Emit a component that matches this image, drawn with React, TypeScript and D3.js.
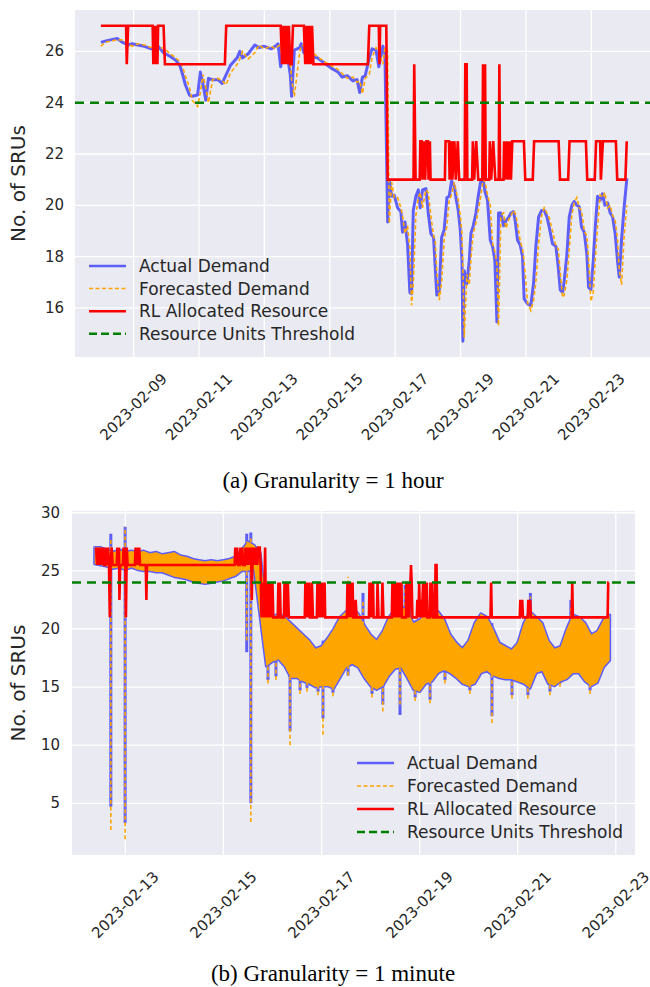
import React from 'react';
import * as d3 from 'd3';

// ---- (a) hourly data: hours since 2023-02-08 00:00 ----
const hourlyHours = [
  0, 3, 7, 12, 16, 20, 23, 27, 32, 37, 42, 46, 51, 55, 58, 60, 62, 65, 67, 71,
  73, 75, 77, 79, 82, 86, 89, 92, 95, 100, 102, 104, 108, 113, 116, 120, 125, 128, 130, 132,
  134, 137, 139, 140, 142, 146, 147, 149, 152, 154, 159, 164, 169, 174, 177, 181, 185, 188, 190, 192,
  194, 197, 199, 202, 204, 207, 208.5, 210.5, 211.7, 213.4, 215.3, 217.8, 220.2, 221.4, 223.2, 225.1, 226.8, 228, 229.3, 231.2,
  233, 234.4, 236.1, 238.6, 240.3, 242.2, 244.2, 245.4, 246.6, 248.4, 250.1, 252, 254, 255.7, 257.4, 259.4, 260.6, 262.3, 263.8, 265,
  265.7, 266.7, 268.7, 270.4, 271.6, 273.3, 275.3, 277, 279, 280.6, 282.1, 283.8, 285.8, 287.5, 289.2, 290.7, 291.9, 293.6, 295.6, 297.3,
  299, 301, 302.9, 304.1, 305.8, 307.8, 309.5, 310.7, 313.2, 315.6, 317.6, 319.3, 321.3, 323.5, 325.4, 327.4, 329.1, 331.5, 334, 335.7,
  337.2, 338.9, 340.1, 342.1, 343.8, 345.7, 347.4, 349.4, 351.1, 352.8, 354.8, 356.7, 358, 359.7, 361.4, 362.9, 364.6, 366.5, 368.2, 369.9,
  371.9, 373.9, 375.6, 377.5, 379.2, 380.5, 382.2, 384.1, 386.1,
];
const hourlyActual = [
  26.35, 26.4, 26.45, 26.5, 26.35, 26.25, 26.3, 26.25, 26.2, 26.1, 26.2, 25.95, 25.8, 25.65, 25.45, 25.1, 24.7, 24.3, 24.25, 24.3,
  25.2, 24.7, 24.1, 24.95, 24.9, 24.9, 24.75, 25.1, 25.45, 25.75, 26.0, 25.75, 25.9, 26.25, 26.15, 26.2, 26.1, 26.2, 26.3, 25.4,
  26.0, 25.8, 25.1, 24.25, 26.05, 26.15, 26.3, 25.95, 26.0, 25.8, 25.75, 25.55, 25.35, 25.2, 25.0, 25.05, 24.85, 24.9, 24.4, 25.0,
  25.05, 25.75, 26.1, 26.05, 25.4, 26.2, 25.9, 19.35, 21.0, 20.35, 20.4, 19.9, 19.75, 18.95, 19.35, 18.5, 16.6, 16.55, 19.8, 20.35,
  20.6, 19.9, 20.6, 20.65, 19.7, 18.9, 18.75, 17.6, 16.5, 16.7, 18.75, 19.05, 20.3, 20.35, 20.95, 20.75, 20.3, 19.8, 19.05, 17.85,
  14.7, 17.45, 16.95, 17.85, 18.9, 19.2, 19.7, 20.35, 21.0, 21.0, 20.5, 20.2, 18.65, 18.4, 17.85, 15.45, 19.7, 19.7, 19.2, 19.4,
  19.5, 19.7, 19.75, 19.4, 18.65, 18.45, 18.0, 16.35, 16.15, 16.1, 16.95, 18.4, 19.55, 19.8, 19.8, 19.55, 19.15, 18.5, 18.4, 17.6,
  16.7, 16.6, 17.05, 18.1, 19.55, 20.0, 20.15, 20.0, 19.95, 19.15, 18.95, 18.1, 16.8, 16.7, 17.85, 19.15, 20.35, 20.2, 20.45, 20.0,
  20.1, 19.7, 19.55, 18.9, 17.85, 17.2, 18.65, 19.95, 21.05,
];
const hourlyForecast = [
  26.2, 26.35, 26.4, 26.45, 26.45, 26.3, 26.2, 26.3, 26.25, 26.15, 26.1, 26.15, 25.9, 25.75, 25.6, 25.4, 25.05, 24.6, 24.1, 23.85,
  24.4, 25.1, 24.6, 24.0, 24.9, 24.95, 24.85, 24.7, 25.15, 25.5, 25.7, 26.0, 25.7, 25.95, 26.25, 26.1, 26.2, 26.1, 26.2, 26.25,
  25.5, 25.9, 25.6, 24.9, 24.25, 26.0, 26.2, 26.25, 25.9, 26.0, 25.8, 25.6, 25.45, 25.3, 25.15, 24.95, 25.0, 24.8, 24.85, 24.35,
  24.95, 25.1, 25.75, 26.15, 26.0, 25.5, 26.15, 26.0, 19.3, 20.9, 20.3, 20.3, 19.9, 19.6, 18.9, 19.2, 18.3, 16.1, 16.9, 19.6,
  20.3, 20.5, 19.9, 20.6, 20.5, 19.6, 18.8, 18.6, 17.4, 16.3, 17.0, 18.7, 19.2, 20.2, 20.4, 20.9, 20.6, 20.2, 19.6, 18.9,
  17.6, 14.85, 17.3, 16.9, 17.9, 18.9, 19.3, 19.8, 20.4, 21.0, 20.9, 20.4, 20.0, 18.5, 18.2, 17.7, 15.3, 19.6, 19.7, 19.1,
  19.4, 19.6, 19.8, 19.7, 19.3, 18.6, 18.3, 17.8, 16.2, 15.9, 16.3, 17.0, 18.5, 19.6, 19.9, 19.7, 19.5, 19.0, 18.4, 18.3,
  17.4, 16.4, 16.5, 17.1, 18.3, 19.6, 20.1, 20.3, 19.9, 19.8, 19.0, 18.8, 17.9, 16.25, 16.6, 17.9, 19.2, 20.4, 20.3, 20.5,
  19.9, 20.0, 19.6, 19.4, 18.7, 17.5, 16.9, 18.8, 20.0,
];
// RL allocation as [hour, SRUs] breakpoints
const hourlyRl: [number, number][] = [
  [0, 27], [18.5, 27], [19, 25.5], [20, 27], [38, 27], [38.5, 25.5], [39, 27], [40, 25.5], [40.5, 27], [41.5, 25.5],
  [42, 27], [46, 27], [47, 25.5], [91, 25.5], [92, 27], [132, 27], [133, 25.5], [134, 27], [135, 25.5], [136, 27],
  [137, 25.5], [138, 27], [139, 25.5], [140, 25.5], [141, 27], [149, 27], [150, 25.5], [151, 27], [152, 25.5], [153, 27],
  [154, 25.5], [155, 27], [156, 25.5], [196, 25.5], [197, 27], [204, 27], [204.5, 25.5], [205, 27], [209.5, 27], [210.5, 21],
  [229.5, 21], [230, 25.5], [231, 21], [234, 21], [234.5, 22.5], [235.5, 22.5], [236, 21], [237, 22.5], [238, 21], [239, 22.5],
  [240, 22.5], [240.5, 21], [241.5, 22.5], [242, 21], [252.5, 21], [253, 22.5], [255.5, 22.5], [256, 21], [257.5, 22.5], [258, 21],
  [259.5, 22.5], [260.5, 21], [262, 22.5], [263, 21], [267, 21], [267.5, 25.5], [268.5, 25.5], [269, 21], [272.5, 21], [273, 22.5],
  [274, 21], [275.5, 22.5], [277, 21], [280, 21], [280.5, 25.5], [281.5, 21], [282, 25.5], [282.5, 21], [285, 21], [285.5, 22.5],
  [286.5, 21], [288, 22.5], [289.5, 21], [292, 21], [292.5, 25.5], [293, 21], [295.5, 21], [296, 22.5], [297, 21], [298, 22.5],
  [299, 21], [300, 22.5], [301, 21], [302, 22.5], [310.5, 22.5], [311.5, 21], [317, 21], [318, 22.5], [336, 22.5], [337, 21],
  [343, 21], [344, 22.5], [356, 22.5], [357, 21], [362.5, 21], [363.5, 22.5], [366.5, 22.5], [367, 21], [368.5, 22.5], [378, 22.5],
  [379, 21], [385, 21], [386, 22.5],
];
const hourlyTicks = ['2023-02-09', '2023-02-11', '2023-02-13', '2023-02-15', '2023-02-17', '2023-02-19', '2023-02-21', '2023-02-23'];
const hourlyYTicks = [16, 18, 20, 22, 24, 26];

// ---- (b) minute data: hours since 2023-02-12 00:00, min/max envelope per 3 h ----
const minuteBinHours = [
  9, 12, 15, 18, 21, 24, 27, 30, 33, 36, 39, 42, 45, 48, 51, 54, 57, 60, 63, 66,
  69, 72, 75, 78, 81, 84, 87, 90, 93, 96, 99, 102, 105, 108, 111, 114, 117, 120, 123, 126,
  129, 132, 135, 138, 141, 144, 147, 150, 153, 156, 159, 162, 165, 168, 171, 174, 177, 180, 183, 186,
  189, 192, 195, 198, 201, 204, 207, 210, 213, 216, 219, 222, 225, 228, 231, 234, 237, 240, 243, 246,
  249, 252, 255, 258, 261,
];
const minuteHigh = [
  27.0, 27.0, 26.8, 26.6, 26.8, 26.6, 26.7, 26.6, 26.7, 26.5, 26.6, 26.4, 26.5, 26.6, 26.3, 26.2, 26.0, 25.9, 25.8, 25.9,
  25.8, 25.9, 26.0, 26.2, 26.8, 27.5, 27.2, 26.5, 21.5, 21.0, 21.3, 21.0, 20.5, 20.0, 19.5, 19.0, 18.3, 18.5, 19.2, 20.0,
  21.0, 21.5, 21.8, 21.3, 20.3, 19.5, 19.0, 19.8, 21.0, 21.7, 22.0, 21.5, 20.5, 20.8, 21.3, 21.6, 21.5, 20.8, 19.5, 18.8,
  18.3, 19.0, 20.5, 21.3, 21.0, 20.0, 18.8, 18.5, 18.2, 18.8, 20.5, 21.5, 21.0, 20.5, 19.0, 18.3, 18.5, 20.0, 21.2, 21.0,
  20.5, 19.5, 19.8, 20.8, 21.2,
];
const minuteLow = [
  25.6, 25.5, 25.4, 25.2, 25.3, 25.1, 25.3, 25.1, 25.0, 25.0, 24.9, 24.9, 24.7, 24.5, 24.4, 24.3, 24.1, 24.0, 23.9, 24.0,
  24.1, 24.2, 24.4, 24.6, 25.0, 25.0, 25.2, 21.0, 16.8, 17.2, 17.4, 16.8, 15.8, 15.8, 15.5, 15.3, 15.0, 15.1, 15.1, 14.9,
  15.8, 16.7, 17.0, 16.7, 15.8, 15.1, 14.8, 15.1, 16.0, 16.6, 16.7, 15.8, 14.8, 14.6, 15.3, 15.5, 16.2, 16.5, 16.2, 15.8,
  15.3, 15.1, 15.3, 16.2, 16.4, 16.0, 15.8, 15.7, 15.7, 15.5, 15.3, 14.9, 16.2, 16.4, 15.3, 15.1, 15.5, 15.7, 16.2, 16.2,
  15.5, 15.1, 15.4, 16.7, 17.3,
];
// isolated one-minute spikes
const spikeHours = [
  16.9, 23.9, 83.4, 85.4, 93.8, 97.7, 104.6, 109.5, 112.9, 118.3, 120.7, 125.6, 133, 140.3, 144.7, 150, 158.4,
  160.9, 163, 165.8, 170.8, 173.1, 175, 180.4, 192.6, 203.4, 213.2, 221, 222.2, 231.8, 236.7, 242, 251.4,
];
const spikeActualHigh = [
  28.2, 28.8, 28.2, 28.3, 19.0, 19.0, 20.5, 18.5, 18.5, 18.0, 19.0, 18.5, 23.5, 23.1, 18.0, 19.5, 22.5,
  23.8, 23.5, 18.5, 22.8, 20.0, 23.0, 20.0, 18.0, 20.5, 17.5, 20.0, 23.1, 18.5, 17.5, 22.5, 18.5,
];
const spikeActualLow = [
  4.7, 3.3, 18.0, 5.0, 15.6, 15.9, 11.2, 14.7, 14.9, 14.6, 12.3, 14.5, 16.0, 17.5, 14.4, 13.5, 12.6,
  17.5, 17.0, 14.1, 17.0, 13.9, 17.0, 15.6, 14.7, 12.5, 14.3, 14.3, 17.0, 14.6, 15.3, 17.0, 14.7,
];
const spikeForecastHigh = [
  27.8, 28.8, 27.5, 28.0, 19.0, 19.0, 20.0, 18.5, 18.5, 18.0, 18.5, 18.5, 24.5, 22.5, 18.0, 19.0, 22.0,
  23.5, 23.0, 18.5, 22.5, 20.0, 22.5, 20.0, 18.0, 20.0, 17.5, 20.0, 22.8, 18.5, 17.5, 22.0, 18.5,
];
const spikeForecastLow = [
  2.7, 1.9, 19.0, 3.4, 15.3, 15.6, 10.0, 14.4, 14.6, 14.3, 10.9, 14.2, 16.0, 17.5, 14.1, 12.9, 13.5,
  17.5, 17.0, 13.8, 17.0, 13.6, 17.0, 15.3, 14.4, 11.9, 14.0, 14.0, 17.0, 14.3, 15.0, 17.0, 14.4,
];
const minuteRl: [number, number][] = [
  [9.7, 27], [10.2, 25.5], [10.6, 27], [11.1, 25.5], [11.5, 27], [12, 25.5], [12.4, 27], [12.9, 25.5], [13.2, 27], [13.7, 25.5],
  [14.3, 25.5], [14.6, 27], [15.1, 25.5], [15.5, 27], [16, 25.5], [16.4, 21], [16.8, 25.5], [17.3, 27], [17.8, 25.5],
  [19.8, 25.5], [20.1, 27], [20.5, 25.5], [20.9, 27], [21.1, 22.5], [21.5, 25.5],
  [22.8, 25.5], [23.1, 27], [23.5, 25.5], [23.9, 27], [24.3, 21], [24.7, 27], [25.1, 25.5],
  [28.7, 25.5], [29, 27], [29.5, 25.5], [29.9, 27], [30.4, 25.5], [30.8, 27], [31.2, 25.5],
  [34, 25.5], [34.3, 22.5], [34.6, 25.5],
  [77.5, 25.5], [77.8, 27], [78.3, 25.5], [78.7, 27], [79.2, 25.5],
  [80, 25.5], [80.3, 27], [80.8, 25.5], [81.2, 27], [81.6, 25.5],
  [82.5, 25.5], [82.8, 27], [83.3, 25.5], [83.7, 27], [84.2, 25.5], [84.6, 27], [85.1, 25.5], [85.5, 27], [85.9, 22.5], [86.3, 27],
  [86.8, 25.5], [87.2, 27], [87.7, 25.5], [88.1, 27], [88.6, 25.5], [89, 27], [89.8, 27], [90.2, 25.5], [90.6, 21],
  [91.2, 24], [91.6, 21], [92.1, 24], [92.4, 27], [92.8, 21], [93.3, 24], [93.7, 21], [94.2, 24], [94.6, 21], [95.1, 24],
  [95.5, 21], [96, 24], [96.4, 21],
  [98.6, 21], [98.9, 24], [99.3, 21], [99.6, 24], [100, 21],
  [101.6, 21], [101.9, 24], [102.3, 21], [102.7, 24], [103.1, 21], [103.5, 24], [104, 21],
  [111.8, 21], [112.1, 24], [112.5, 21], [113, 24], [113.4, 21], [113.9, 24], [114.3, 21], [115, 21], [115.3, 24], [115.8, 21],
  [117.7, 21], [118, 24], [118.4, 21], [118.9, 24], [119.3, 21], [119.8, 24], [120.2, 21], [120.7, 24], [121.1, 21], [121.5, 24], [121.8, 21],
  [132.4, 21], [132.7, 24], [133.1, 21], [133.5, 24], [133.9, 21], [134.4, 24], [134.8, 21], [135.2, 24], [135.5, 21],
  [136.4, 21], [136.7, 22.5], [137.2, 21],
  [143.2, 21], [143.5, 24], [143.9, 21], [144.4, 24], [144.8, 21], [145.2, 24], [145.5, 21],
  [147.1, 21], [147.4, 24], [147.9, 21], [149.5, 21], [149.8, 24], [150.3, 21],
  [154.4, 21], [154.7, 24], [155.1, 21], [155.6, 24], [156, 21], [156.5, 24], [156.9, 21], [157.4, 24], [157.8, 21], [158.3, 24],
  [158.7, 21], [159.1, 24], [159.4, 21],
  [161.3, 21], [161.6, 24], [162, 21], [162.5, 24], [162.9, 21], [163.5, 24], [163.8, 25.5], [164.1, 24], [164.5, 21],
  [166.6, 21], [166.9, 22.5], [167.4, 21], [167.8, 24], [168.2, 21], [168.7, 22.5], [169.1, 21], [169.7, 24], [170.1, 21], [170.6, 24],
  [171, 21], [171.5, 24], [171.8, 21],
  [173, 21], [173.3, 24], [173.7, 21], [174.2, 24], [174.6, 21], [175.5, 21], [175.8, 25.5], [176.3, 25.5], [176.6, 21],
  [202.7, 21], [203, 24], [203.3, 21],
  [217, 21], [217.3, 22.5], [217.7, 21], [218.2, 22.5], [218.6, 21],
  [220.9, 21], [221.2, 22.5], [221.6, 21], [222.1, 22.5], [222.5, 21],
  [242.4, 21], [242.7, 24], [243, 21], [260, 21], [260.3, 24], [260.5, 24],
];
const minuteTicks = ['2023-02-13', '2023-02-15', '2023-02-17', '2023-02-19', '2023-02-21', '2023-02-23'];
const minuteYTicks = [5, 10, 15, 20, 25, 30];

const THRESHOLD = 24;
const legendLabels = ['Actual Demand', 'Forecasted Demand', 'RL Allocated Resource', 'Resource Units Threshold'];

const HOUR = 3600 * 1000;
const FONT = "'DejaVu Sans', sans-serif";
const SERIF = "'Liberation Serif', 'Times New Roman', serif";
const INK = '#262626';
const BG = '#eaeaf2';
const BLUE = '#0000ff';
const ORANGE = '#ffa500';

type Box = { left: number; right: number; top: number; bottom: number };

function Frame({ box, x, y, xTicks, yTicks, id, labelPad }: {
  box: Box; x: d3.ScaleTime<number, number>; y: d3.ScaleLinear<number, number>;
  xTicks: string[]; yTicks: number[]; id: string; labelPad: number;
}) {
  const midY = (box.top + box.bottom) / 2;
  return (
    <g>
      <defs>
        <clipPath id={id}>
          <rect x={box.left} y={box.top} width={box.right - box.left} height={box.bottom - box.top} />
        </clipPath>
      </defs>
      <rect x={box.left} y={box.top} width={box.right - box.left} height={box.bottom - box.top} fill={BG} />
      {yTicks.map((t) => (
        <line key={'gy' + t} x1={box.left} x2={box.right} y1={y(t)} y2={y(t)} stroke="#fff" strokeWidth={1.3} />
      ))}
      {xTicks.map((d) => {
        const px = x(new Date(d + 'T00:00:00Z'));
        return <line key={'gx' + d} x1={px} x2={px} y1={box.top} y2={box.bottom} stroke="#fff" strokeWidth={1.3} />;
      })}
      {yTicks.map((t) => (
        <text key={'ty' + t} x={box.left - labelPad} y={y(t)} textAnchor="end" dominantBaseline="central"
          fontFamily={FONT} fontSize={15} fill={INK}>{t}</text>
      ))}
      {xTicks.map((d) => {
        const px = x(new Date(d + 'T00:00:00Z'));
        const cy = box.bottom + 50;
        return (
          <text key={'tx' + d} x={px} y={cy} textAnchor="middle" dominantBaseline="central"
            transform={`rotate(-45, ${px}, ${cy})`} fontFamily={FONT} fontSize={15} fill={INK}>{d}</text>
        );
      })}
      <text x={18} y={midY} textAnchor="middle" dominantBaseline="central" transform={`rotate(-90, 18, ${midY})`}
        fontFamily={FONT} fontSize={20} fill={INK}>No. of SRUs</text>
    </g>
  );
}

function Legend({ x0, y0, gap }: { x0: number; y0: number; gap: number }) {
  const styles = [
    { stroke: BLUE, opacity: 0.6, width: 2.5, dash: undefined as string | undefined },
    { stroke: ORANGE, opacity: 1, width: 1.5, dash: '4,2.5' },
    { stroke: '#ff0000', opacity: 1, width: 2.5, dash: undefined },
    { stroke: 'green', opacity: 1, width: 2.5, dash: '8,4' },
  ];
  return (
    <g>
      {legendLabels.map((label, i) => {
        const cy = y0 + i * gap;
        const s = styles[i];
        return (
          <g key={label}>
            <line x1={x0} x2={x0 + 37} y1={cy} y2={cy} stroke={s.stroke} strokeOpacity={s.opacity}
              strokeWidth={s.width} strokeDasharray={s.dash} />
            <text x={x0 + 50} y={cy} dominantBaseline="central" fontFamily={FONT} fontSize={17} fill={INK}>{label}</text>
          </g>
        );
      })}
    </g>
  );
}

function HourlyChart() {
  const box: Box = { left: 75, right: 651, top: 10, bottom: 357 };
  const base = Date.UTC(2023, 1, 8);
  const x = d3.scaleUtc().domain([new Date(base - 19 * HOUR), new Date(base + 403.8 * HOUR)]).range([box.left, box.right]);
  const y = d3.scaleLinear().domain([14.085, 27.615]).range([box.bottom, box.top]);
  const xh = (h: number) => x(new Date(base + h * HOUR));
  const line = d3.line<number>().x((_, i) => xh(hourlyHours[i]));
  const actualPath = line.y((v) => y(v))(hourlyActual) || '';
  const forecastPath = line.y((v) => y(v))(hourlyForecast) || '';
  const rlPath = d3.line<[number, number]>().x((d) => xh(d[0])).y((d) => y(d[1]))(hourlyRl) || '';
  return (
    <g>
      <Frame box={box} x={x} y={y} xTicks={hourlyTicks} yTicks={hourlyYTicks} id="clipA" labelPad={11} />
      <g clipPath="url(#clipA)">
        <path d={actualPath} fill="none" stroke={BLUE} strokeOpacity={0.6} strokeWidth={3} strokeLinejoin="round" />
        <path d={forecastPath} fill="none" stroke={ORANGE} strokeWidth={1.6} strokeDasharray="4,2.5" />
        <path d={rlPath} fill="none" stroke="#ff0000" strokeWidth={2.6} />
        <line x1={box.left} x2={box.right} y1={y(THRESHOLD)} y2={y(THRESHOLD)} stroke="green" strokeWidth={2.6} strokeDasharray="9,6" />
      </g>
      <Legend x0={89} y0={266} gap={22.6} />
      <text x={333} y={488} textAnchor="middle" fontFamily={SERIF} fontSize={23} fill="#000">
        (a) Granularity = 1 hour
      </text>
    </g>
  );
}

function MinuteChart() {
  const box: Box = { left: 72, right: 635, top: 511, bottom: 855 };
  const base = Date.UTC(2023, 1, 12);
  const x = d3.scaleUtc().domain([new Date(base - 2.1 * HOUR), new Date(base + 273.4 * HOUR)]).range([box.left, box.right]);
  const y = d3.scaleLinear().domain([0.55, 30.15]).range([box.bottom, box.top]);
  const xh = (h: number) => x(new Date(base + h * HOUR));
  const band = d3.area<number>()
    .x((_, i) => xh(minuteBinHours[i]))
    .y0((_, i) => y(minuteLow[i]))
    .y1((v) => y(v));
  const bandPath = band(minuteHigh) || '';
  const rlPath = d3.line<[number, number]>().x((d) => xh(d[0])).y((d) => y(d[1]))(minuteRl) || '';
  return (
    <g>
      <Frame box={box} x={x} y={y} xTicks={minuteTicks} yTicks={minuteYTicks} id="clipB" labelPad={12} />
      <g clipPath="url(#clipB)">
        <g opacity={0.6}>
          <path d={bandPath} fill={BLUE} stroke={BLUE} strokeWidth={3} strokeLinejoin="round" />
          {spikeHours.map((h, i) => (
            <line key={'sa' + i} x1={xh(h)} x2={xh(h)} y1={y(spikeActualLow[i])} y2={y(spikeActualHigh[i])} stroke={BLUE} strokeWidth={3} />
          ))}
        </g>
        <path d={bandPath} fill={ORANGE} />
        {spikeHours.map((h, i) => (
          <line key={'sf' + i} x1={xh(h)} x2={xh(h)} y1={y(spikeForecastLow[i])} y2={y(spikeForecastHigh[i])}
            stroke={ORANGE} strokeWidth={1.6} strokeDasharray="4,2.5" />
        ))}
        <path d={rlPath} fill="none" stroke="#ff0000" strokeWidth={2.6} />
        <line x1={box.left} x2={box.right} y1={y(THRESHOLD)} y2={y(THRESHOLD)} stroke="green" strokeWidth={2.6} strokeDasharray="9,6" />
      </g>
      <Legend x0={357} y0={763} gap={23} />
      <text x={333} y={981} textAnchor="middle" fontFamily={SERIF} fontSize={23} fill="#000">
        (b) Granularity = 1 minute
      </text>
    </g>
  );
}

export default function App() {
  return (
    <svg width={650} height={987} viewBox="0 0 650 987"
      style={{ position: 'absolute', left: 0, top: 0, background: '#fff' }}>
      <HourlyChart />
      <MinuteChart />
    </svg>
  );
}
